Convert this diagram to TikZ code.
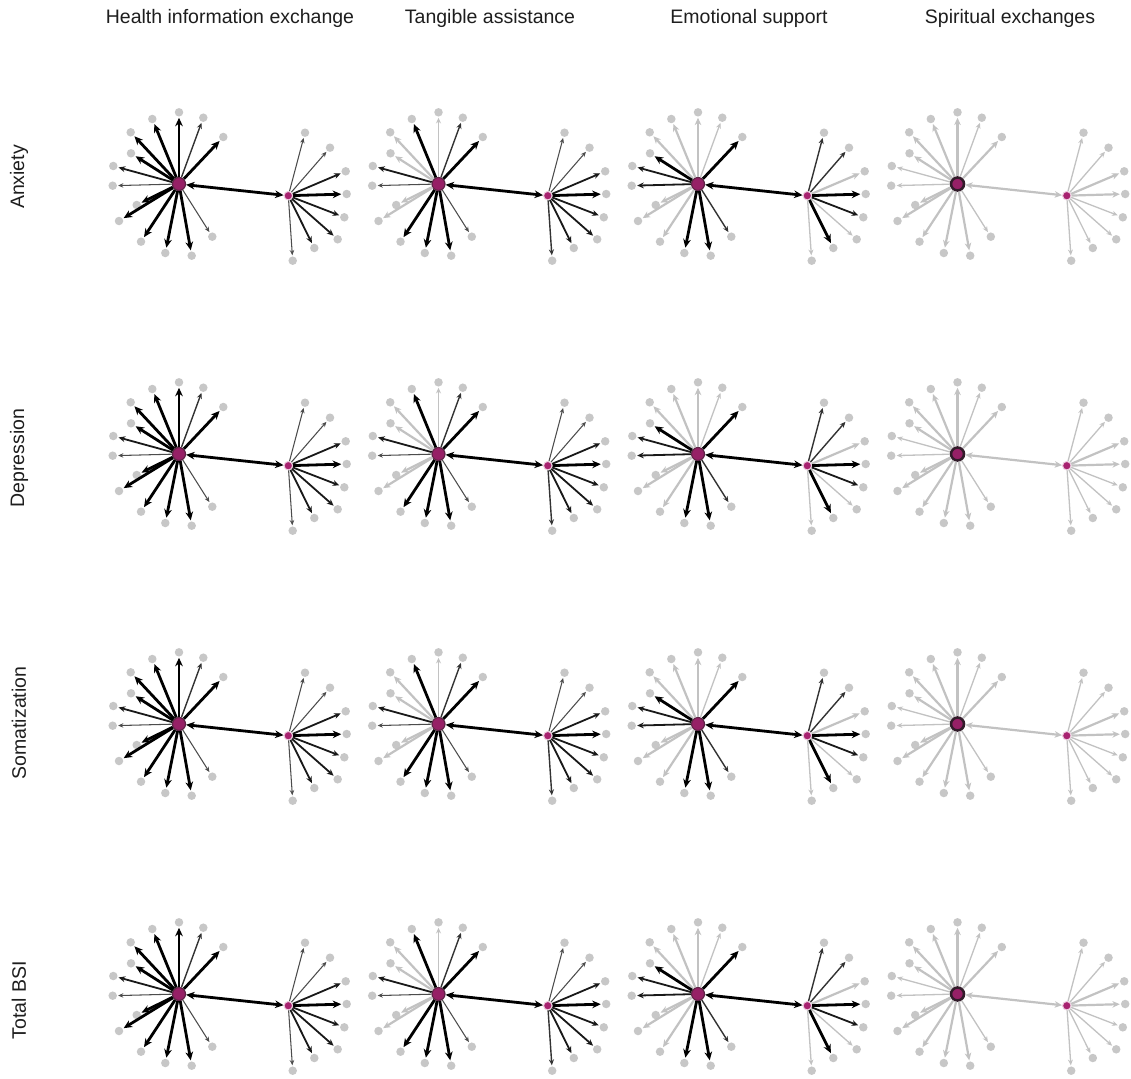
\documentclass[tikz,border=0pt]{standalone}
\usepackage{fontspec}
\setmainfont{Liberation Sans}
\usetikzlibrary{arrows.meta}
\definecolor{lgE}{RGB}{194,194,194}
\definecolor{leafC}{RGB}{199,199,199}
\definecolor{hubF}{RGB}{150,32,102}
\definecolor{hubD}{RGB}{95,35,70}
\definecolor{hubDD}{RGB}{50,28,42}
\definecolor{shubF}{RGB}{168,35,112}
\definecolor{shubD}{RGB}{238,205,224}
\definecolor{txtC}{RGB}{30,30,30}
\newcommand\mypanel[5]{%
\foreach \r in {0,1,2,3}{%
 \begin{scope}[shift={({259.5*#1+179},{270*\r+184})}]
  \node[#2] (h#1\r) at (0,0) {};
  \node[smallhub] (s#1\r) at (109.3,11.7) {};
  \foreach \p [count=\i] in {(0,-71.7),(-26.7,-65),(24.3,-66.3),(-48.3,-51.7),(44.3,-47),(-48,-30.7),(-65.7,-18),(-66.3,1.7),(-42.3,21),(-60,37),(-38,57.7),(33.3,52.7),(-13.7,69),(12.7,71.7)}
    \node[leaf] (b#1\r-\i) at \p {};
  \foreach \p [count=\i] in {(126,-51.3),(151,-36.3),(166.7,-12.7),(167.7,10),(165.3,33.3),(158.7,55.3),(135.3,64),(113.7,76.7)}
    \node[leaf] (l#1\r-\i) at \p {};
  \foreach \s [count=\i] in {#3} \draw[\s] (h#1\r) -- (b#1\r-\i);
  \foreach \s [count=\i] in {#4} \draw[\s] (s#1\r) -- (l#1\r-\i);
  \draw[#5] (h#1\r) -- (s#1\r);
 \end{scope}}}
\begin{document}
\begin{tikzpicture}[x=1pt,y=-1pt,
 leaf/.style={circle,fill=leafC,inner sep=0pt,minimum size=8.5pt},
 bighub/.style={circle,fill=hubF,draw=hubD,line width=1.2pt,inner sep=0pt,minimum size=13pt},
 bighubS/.style={circle,fill=hubF,draw=hubDD,line width=2.6pt,inner sep=0pt,minimum size=13pt},
 smallhub/.style={circle,fill=shubF,draw=shubD,line width=1pt,inner sep=0pt,minimum size=8.5pt},
 tip/.tip={Stealth[length=3.2pt 1.9,width=2.6pt 1.8]},
 ar/.style={-tip,shorten >=1pt},
 TK/.style={ar,draw=black,line width=2.8pt},
 MK/.style={ar,draw=black!90,line width=1.8pt},
 MN/.style={ar,draw=black!80,line width=1.4pt},
 TN/.style={ar,draw=black!70,line width=1.05pt},
 LG/.style={ar,draw=lgE,line width=2.2pt},
 LT/.style={ar,draw=lgE,line width=1.3pt},
 HH/.style={tip-tip,draw=black,line width=2.8pt},
 HL/.style={tip-tip,draw=lgE,line width=2.2pt},
 hdr/.style={anchor=base,text=txtC,font=\fontsize{19.5}{23}\selectfont,inner sep=0pt},
 rowl/.style={rotate=90,text=txtC,font=\fontsize{19.5}{23}\selectfont,inner sep=0pt}]
\useasboundingbox (0,0) rectangle (1131,1078);
\fill[white] (0,0) rectangle (1131,1078);
\node[hdr] (t1) at (230,24) {Health information exchange};
\node[hdr] (t2) at (490,24) {Tangible assistance};
\node[hdr] (t3) at (749,24) {Emotional support};
\node[hdr] (t4) at (1010,24) {Spiritual exchanges};
\node[rowl] (r1) at (19,177) {Anxiety};
\node[rowl] (r2) at (19,458) {Depression};
\node[rowl] (r3) at (19,723) {Somatization};
\node[rowl] (r4) at (19,1000) {Total BSI};
\mypanel{0}{bighub}{TK,TK,MN,TK,TK,TK,MK,TN,TK,TK,TK,TN,TK,TK}{TN,TN,MK,TK,MK,MK,MK,TN}{HH}
\mypanel{1}{bighub}{LT,TK,MN,LG,TK,LG,MK,TN,LG,LG,TK,TN,TK,TK}{TN,TN,MK,TK,MK,MK,MK,MN}{HH}
\mypanel{2}{bighub}{LG,LG,LT,LG,TK,TK,MK,MK,LG,LG,LG,MN,TK,TK}{MN,MN,LG,TK,MK,LT,TK,LT}{HH}
\mypanel{3}{bighubS}{LG,LG,LT,LG,LG,LG,LT,LT,LG,LG,LG,LT,LG,LG}{LT,LT,LG,LG,LT,LT,LT,LT}{HL}
\end{tikzpicture}
\end{document}
